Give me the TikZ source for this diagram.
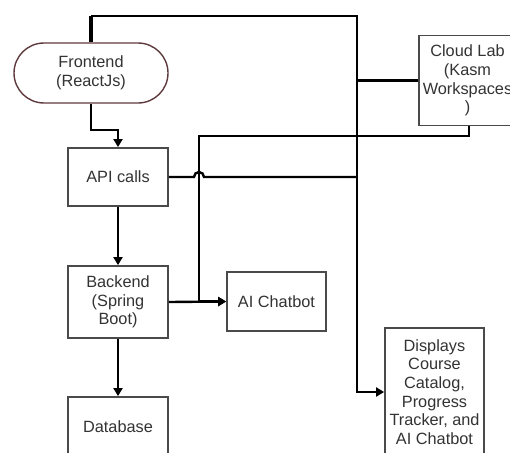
\documentclass[tikz,border=0pt]{standalone}
\usepackage{fontspec}
\setmainfont{Liberation Sans}
\usetikzlibrary{arrows.meta,shapes.misc}
\definecolor{boxline}{HTML}{4A4A4A}
\definecolor{feline}{HTML}{5E3A3E}
\definecolor{txt}{HTML}{333333}
\tikzset{
  box/.style={draw=boxline, line width=1.8pt, fill=white, rectangle, align=center,
    text=txt, font=\fontsize{16.3}{18.7}\selectfont, inner sep=0pt},
  term/.style={draw=feline, line width=1.4pt, fill=white, rounded rectangle, align=center,
    text=txt, font=\fontsize{16.3}{18.7}\selectfont, inner sep=0pt},
  conn/.style={draw=black, line width=2.4pt},
  arr/.style={conn, -{Triangle[length=8pt,width=9pt]}}
}
\begin{document}
\begin{tikzpicture}[x=1pt,y=-1pt]
\clip (0,0) rectangle (510,452);
\fill[white] (0,0) rectangle (510,452);

% nodes
\node[term, minimum width=154pt, minimum height=60pt] (fe) at (91,73) {Frontend\\(ReactJs)};
\node[box, minimum width=100pt, minimum height=58pt] (api) at (118,177) {API calls};
\node[box, minimum width=100pt, minimum height=72pt] (be) at (118,302) {Backend\\(Spring\\Boot)};
\node[box, minimum width=100pt, minimum height=60pt] (db) at (118,427) {Database};
\node[box, minimum width=99pt, minimum height=59pt] (ai) at (276.5,301.5) {AI Chatbot};
\node[box, minimum width=97pt, minimum height=90pt] (cl) at (467.5,80.5) {Cloud Lab\\(Kasm\\Workspaces\\)};
\node[box, minimum width=99pt, minimum height=128pt] (dp) at (434.5,392) {Displays\\Course\\Catalog,\\Progress\\Tracker, and\\AI Chatbot};

% helper coordinates
\coordinate (top) at (92,16);
\coordinate (trunkTop) at (357,16);
\coordinate (feBend) at (91,130);
\coordinate (clBend) at (469,136);
\coordinate (vx) at (199,136);
\coordinate (hopL) at (194,177);
\coordinate (hopR) at (204,177);
\coordinate (trunkApi) at (357,177);

% Frontend -> API calls
\draw[arr] (fe.south) -- (feBend) -| (api.north);
% API -> Backend -> Database
\draw[arr] (api.south) -- (be.north);
\draw[arr] (be.south) -- (db.north);
% Backend -> AI Chatbot
\draw[arr] (be.east) -- (ai.west);

% Frontend top -> trunk -> Displays
\draw[conn, line width=4pt] (fe.north) -- (fe.north |- top);
\draw[arr] (fe.north |- top) -- (trunkTop) |- (dp.west);
% Cloud Lab left -> trunk
\draw[conn] (cl.west) -- (cl.west -| trunkTop);
% Cloud Lab bottom -> AI Chatbot
\draw[arr] (cl.south -| clBend) -- (clBend) -- (vx) |- (ai.west);
% API calls -> trunk with hop
\draw[conn] (api.east) -- (hopL) arc[start angle=180, end angle=360, radius=5] -- (trunkApi);
\end{tikzpicture}
\end{document}
